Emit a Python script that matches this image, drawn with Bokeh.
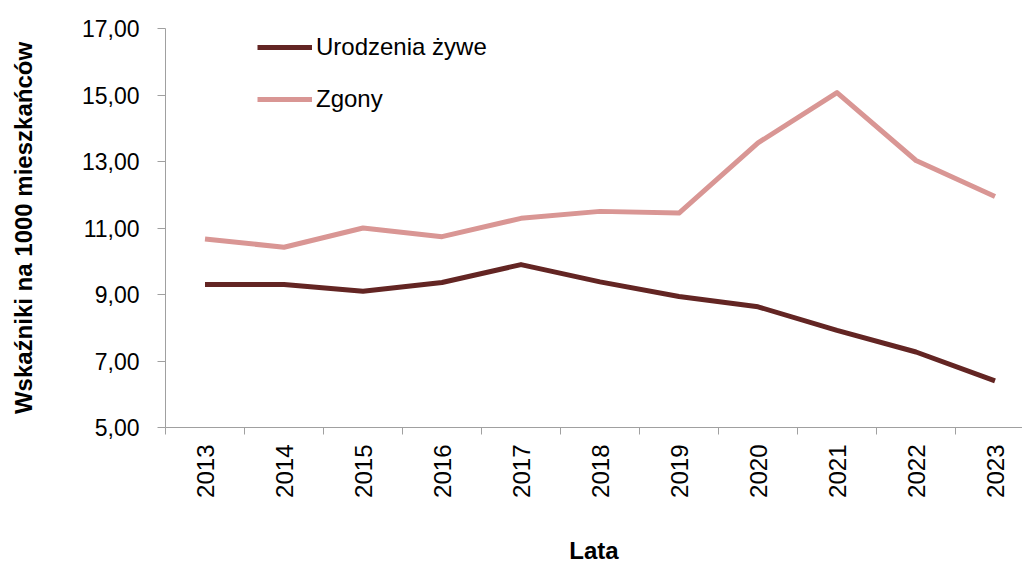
import math
from bokeh.plotting import figure
from bokeh.models import (LinearAxis, FixedTicker, Range1d, Legend, LegendItem)
from bokeh.embed import file_html
from bokeh.resources import INLINE

years = [2013, 2014, 2015, 2016, 2017, 2018, 2019, 2020, 2021, 2022, 2023]
urodzenia = [9.30, 9.30, 9.10, 9.36, 9.90, 9.38, 8.94, 8.63, 7.92, 7.27, 6.40]
zgony = [10.67, 10.42, 11.00, 10.74, 11.29, 11.50, 11.45, 13.56, 15.07, 13.03, 11.95]
y_ticks = [5, 7, 9, 11, 13, 15, 17]
y_tick_labels = ["5,00", "7,00", "9,00", "11,00", "13,00", "15,00", "17,00"]
series_names = ["Urodzenia żywe", "Zgony"]
colors = ["#632523", "#D99694"]

FONT = "Liberation Sans"
AXIS_GRAY = "#a0a0a0"

W, H = 1022, 566
LEFT, TOP, BOTTOM = 165, 28, 136
p = figure(width=W, height=H, output_backend="svg", toolbar_location=None,
           x_axis_type=None, y_axis_type=None,
           min_border_left=LEFT, min_border_top=TOP, min_border_right=0, min_border_bottom=BOTTOM)
p.outline_line_color = None
p.xgrid.visible = False
p.ygrid.visible = False
p.x_range = Range1d(years[0] - 0.5, years[0] - 0.5 + (W - LEFT) / 79.0)
p.y_range = Range1d(5, 17)

# y axis
yax = LinearAxis(ticker=FixedTicker(ticks=y_ticks),
                 major_label_overrides={float(t): l for t, l in zip(y_ticks, y_tick_labels)})
yax.axis_line_color = AXIS_GRAY
yax.major_tick_line_color = AXIS_GRAY
yax.major_tick_out = 8
yax.major_tick_in = 0
yax.minor_tick_line_color = None
yax.major_label_standoff = 18
yax.major_label_text_font = FONT
yax.major_label_text_font_size = "23px"
yax.major_label_text_color = "#000000"
yax.axis_label = "Wskaźniki na 1000 mieszkańców"
yax.axis_label_text_font = FONT
yax.axis_label_text_font_size = "24px"
yax.axis_label_text_font_style = "bold"
yax.axis_label_text_color = "#000000"
yax.axis_label_standoff = 42
p.add_layout(yax, "left")

# x axis: labels at category centres, tick marks at category boundaries
bounds = [y - 0.5 for y in years] + [years[-1] + 0.5]
xax = LinearAxis(ticker=FixedTicker(ticks=years, minor_ticks=bounds),
                 major_label_overrides={float(y): str(y) for y in years})
xax.axis_line_color = AXIS_GRAY
xax.major_tick_line_color = None
xax.major_tick_out = 7
xax.major_tick_in = 0
xax.minor_tick_line_color = AXIS_GRAY
xax.minor_tick_out = 7
xax.minor_tick_in = 0
xax.major_label_orientation = math.pi / 2
xax.major_label_standoff = 10
xax.major_label_text_font = FONT
xax.major_label_text_font_size = "24px"
xax.major_label_text_color = "#000000"
xax.axis_label = "Lata"
xax.axis_label_text_font = FONT
xax.axis_label_text_font_size = "24px"
xax.axis_label_text_font_style = "bold"
xax.axis_label_text_color = "#000000"
xax.axis_label_standoff = 36
p.add_layout(xax, "below")

r1 = p.line(years, urodzenia, line_color=colors[0], line_width=5, line_join="round")
r2 = p.line(years, zgony, line_color=colors[1], line_width=5, line_join="round")

legend = Legend(items=[LegendItem(label=series_names[0], renderers=[r1]),
                       LegendItem(label=series_names[1], renderers=[r2])],
                location=(92, 314), orientation="vertical")
legend.background_fill_alpha = 0
legend.border_line_color = None
legend.padding = 0
legend.margin = 0
legend.spacing = 24
legend.glyph_width = 55
legend.glyph_height = 28
legend.label_height = 28
legend.label_standoff = 4
legend.label_text_font = FONT
legend.label_text_font_size = "24px"
legend.label_text_color = "#000000"
p.add_layout(legend, "center")

open("out.html", "w").write(file_html(p, INLINE))
